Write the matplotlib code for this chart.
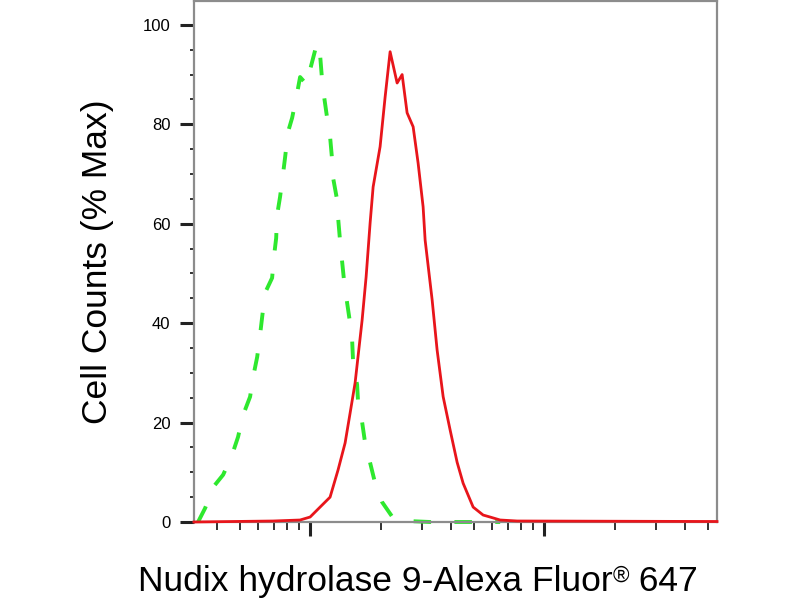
import matplotlib
matplotlib.use("Agg")
import matplotlib.pyplot as plt
from matplotlib.ticker import LogLocator, MultipleLocator, NullFormatter

plt.rcParams['font.family'] = ['Liberation Sans', 'DejaVu Sans']

# isotype control (green dashed)
controle_x = [3.32, 3.56, 3.85, 4.25, 4.64, 4.92, 5.17, 5.54, 5.71, 5.94, 6.11, 6.23,
              6.42, 6.88, 7.02, 7.16, 7.23, 7.44, 7.67, 7.82, 8.05, 8.38, 8.80, 9.06,
              9.71, 10.0, 10.71, 11.03, 11.25, 11.48, 11.82, 12.17, 12.42, 12.54, 13.04,
              13.17, 13.44, 13.98, 14.39, 14.82, 15.12, 15.27, 15.88, 16.04, 16.68, 17.18,
              18.05, 18.96, 20.31, 22.63, 25.97, 32.57, 64.9]
controle_y = [0.0, 2.8, 7.0, 9.5, 13.5, 17.1, 21.5, 25.2, 29.2, 33.2, 37.6, 41.0,
              46.1, 49.1, 53.7, 57.1, 61.8, 65.4, 70.2, 73.4, 78.5, 81.3, 86.3, 89.5,
              87.9, 91.0, 96.4, 94.0, 88.9, 85.5, 81.3, 77.5, 72.8, 69.2, 64.8,
              61.2, 56.3, 48.3, 44.1, 40.0, 36.6, 32.0, 27.6, 23.9, 20.1, 15.9,
              11.9, 7.8, 4.0, 0.8, 0.2, 0.0, 0.0]

# Nudix hydrolase 9 stained cells (red)
amostra_x = [3.19, 6.95, 9.06, 10.0, 11.03, 12.17, 13.17, 14.11, 14.82, 15.57, 16.68,
             17.35, 18.05, 18.59, 19.91, 20.92, 21.97, 23.54, 24.73, 25.97, 27.56,
             28.94, 30.40, 31.01, 33.22, 34.89, 37.03, 39.66, 42.49, 45.07, 49.74,
             54.87, 58.76, 64.86, 76.67, 548.0]
amostra_y = [0.0, 0.2, 0.4, 1.0, 3.0, 5.0, 10.5, 15.9, 21.9, 28.0, 40.6,
             49.3, 60.2, 67.4, 75.5, 85.5, 94.6, 88.3, 90.0, 82.3, 79.5,
             72.2, 63.4, 56.7, 44.7, 34.6, 25.2, 18.5, 12.0, 7.8, 3.0,
             1.4, 1.0, 0.4, 0.2, 0.1]

y_ticks = [0, 20, 40, 60, 80, 100]

fig = plt.figure(figsize=(8, 6), dpi=100)
ax = fig.add_axes([194/800, 1 - 522/600, 523/800, 521/600])

ax.plot(amostra_x, amostra_y, color='#e8151b', linewidth=2.0, zorder=3, clip_on=False)
ax.plot(controle_x, controle_y, color='#2ee82e', linewidth=2.8,
        dashes=(4.5, 6.0), zorder=2, clip_on=False)

ax.set_xscale('log')
ax.set_xlim(3.19, 548)
ax.set_ylim(0, 104.8)

ax.xaxis.set_major_locator(LogLocator(base=10))
ax.xaxis.set_minor_locator(LogLocator(base=10, subs=range(2, 10)))
ax.xaxis.set_major_formatter(NullFormatter())
ax.xaxis.set_minor_formatter(NullFormatter())

ax.set_yticks(y_ticks)
ax.set_yticklabels([str(v) for v in y_ticks], fontsize=12)
ax.yaxis.set_minor_locator(MultipleLocator(5))

ax.tick_params(axis='both', which='major', direction='out', length=10, width=2.2,
               color='#222222', pad=7)
ax.tick_params(axis='y', which='minor', direction='out', length=3, width=1.3, color='#222222')
ax.tick_params(axis='x', which='minor', direction='out', length=6, width=1.3, color='#222222')

for lado in ['left', 'right', 'top', 'bottom']:
    ax.spines[lado].set_color('#8c8c8c')
    ax.spines[lado].set_linewidth(1.6)

fig.text(98/800, 1 - 262/600, 'Cell Counts (% Max)', rotation=90,
         ha='center', va='center', fontsize=25.5)

# x label in three pieces so the ® can be small and raised
partes = ['Nudix hydrolase 9-Alexa Fluor', '\u00ae', ' 647']
tamanhos = [25.5, 16, 25.5]
subida = [0, 9, 0]          # pixels above the baseline
textos = [fig.text(0, 0, p, fontsize=s, va='baseline') for p, s in zip(partes, tamanhos)]
renderer = fig.canvas.get_renderer()
larguras = [t.get_window_extent(renderer).width for t in textos]
x_px = 418 - sum(larguras) / 2
for t, w, dy in zip(textos, larguras, subida):
    t.set_position((x_px / 800, (600 - 591 + dy) / 600))
    x_px += w

fig.savefig('out.png', dpi=100)
